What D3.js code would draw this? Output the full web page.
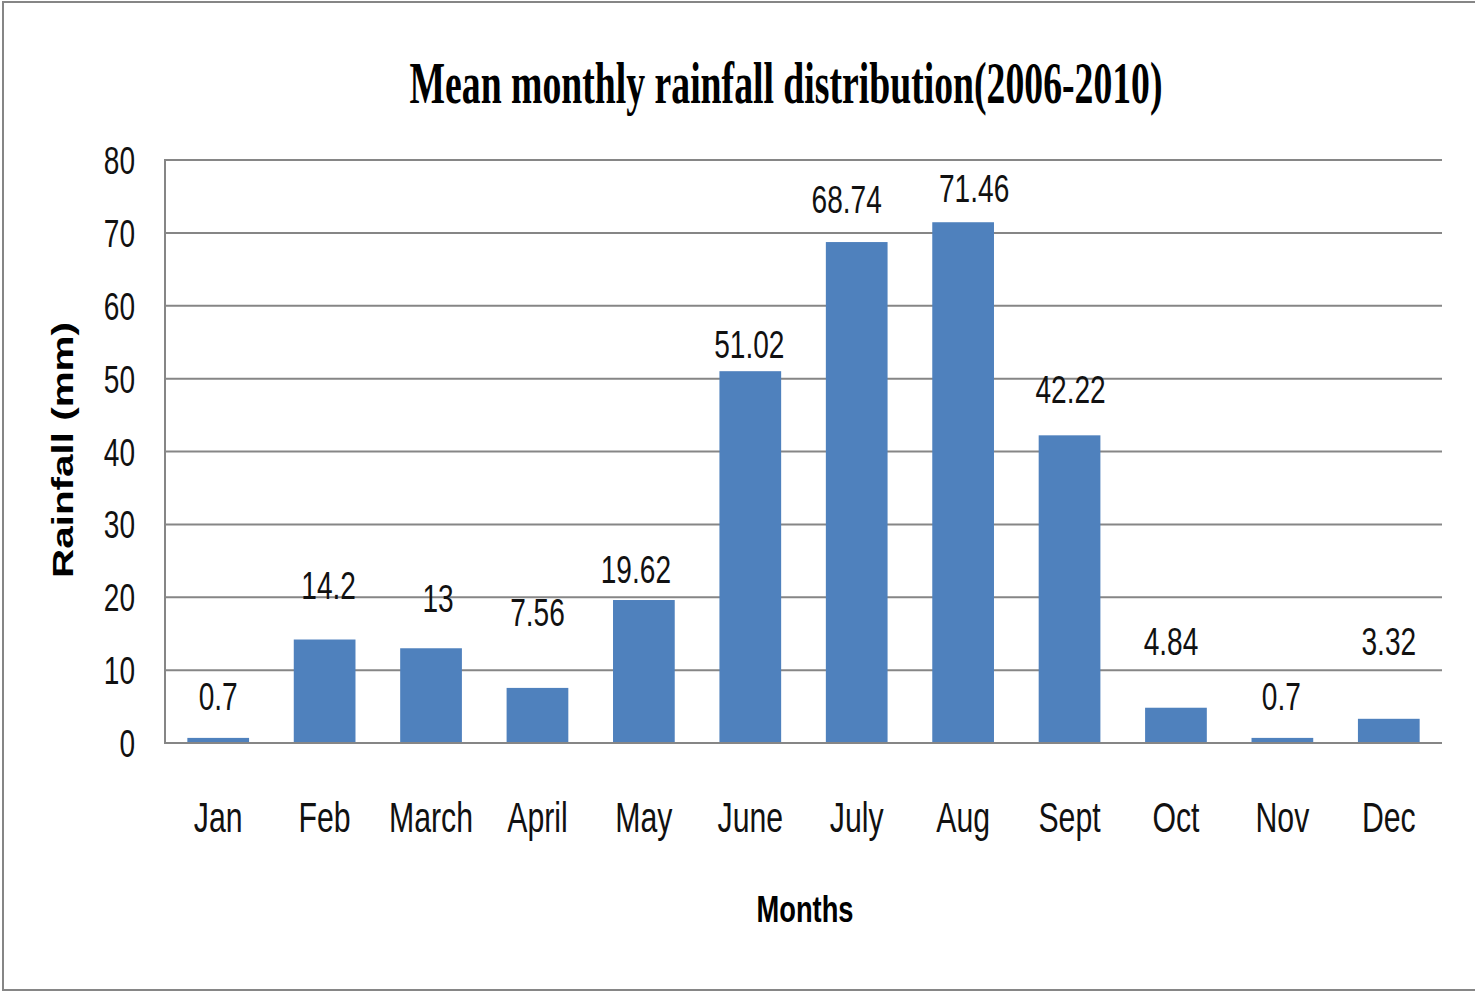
<!DOCTYPE html>
<html>
<head>
<meta charset="utf-8">
<script src="https://cdn.jsdelivr.net/npm/d3@7"></script>
<style>
  html, body { margin: 0; padding: 0; background: #fff; }
  svg { display: block; }
</style>
</head>
<body>
<svg id="chart" width="1475" height="992"></svg>
<script>
// ---- data ----
const months = ["Jan","Feb","March","April","May","June","July","Aug","Sept","Oct","Nov","Dec"];
const rainfall = [0.7, 14.2, 13, 7.56, 19.62, 51.02, 68.74, 71.46, 42.22, 4.84, 0.7, 3.32];
const valueLabels = ["0.7","14.2","13","7.56","19.62","51.02","68.74","71.46","42.22","4.84","0.7","3.32"];
const yTicks = [0, 10, 20, 30, 40, 50, 60, 70, 80];
const titleText = "Mean monthly rainfall distribution(2006-2010)";
const xTitle = "Months";
const yTitle = "Rainfall (mm)";

// ---- layout (hand-placed label baselines as levels on the value axis, and x nudges in px) ----
const labelLevels = [4.5, 19.8, 18.0, 16.1, 21.9, 52.8, 72.7, 74.2, 46.6, 12.1, 4.5, 12.1];
const labelNudge = [0, 4, 7, 0, -8, -1, -10, 11, 1, -5, -1, 0];

const svg = d3.select("#chart");
const m = { left: 165, right: 1442, top: 160, bottom: 743 };
const gray = "#868686";
const blue = "#4F81BD";
const sx = 0.72;

// outer border
svg.append("rect").attr("x", 3).attr("y", 2).attr("width", 1480).attr("height", 988)
  .attr("fill", "none").attr("stroke", gray).attr("stroke-width", 2);

const x = d3.scaleBand().domain(months).range([m.left, m.right]).paddingInner(0.42).paddingOuter(0.21);
const y = d3.scaleLinear().domain([0, 80]).range([m.bottom, m.top]);

// gridlines
svg.append("g").selectAll("line").data(yTicks.filter(d => d > 0)).join("line")
  .attr("x1", m.left).attr("x2", m.right)
  .attr("y1", d => y(d)).attr("y2", d => y(d))
  .attr("stroke", gray).attr("stroke-width", 2);

// bars
svg.append("g").selectAll("rect").data(rainfall).join("rect")
  .attr("x", (d, i) => x(months[i]))
  .attr("width", x.bandwidth())
  .attr("y", d => y(d))
  .attr("height", d => y(0) - y(d))
  .attr("fill", blue);

// axes lines
svg.append("line").attr("x1", m.left).attr("x2", m.left).attr("y1", m.top - 1).attr("y2", m.bottom + 1)
  .attr("stroke", gray).attr("stroke-width", 2);
svg.append("line").attr("x1", m.left - 1).attr("x2", m.right).attr("y1", y(0)).attr("y2", y(0))
  .attr("stroke", gray).attr("stroke-width", 2);

function narrow(g, txt, px, py, anchor, size, weight) {
  return g.append("text")
    .attr("transform", `translate(${px},${py}) scale(${sx},1)`)
    .attr("text-anchor", anchor)
    .attr("font-family", "Liberation Sans, Arial, sans-serif")
    .attr("font-size", size)
    .attr("font-weight", weight || "normal")
    .attr("fill", "#111")
    .text(txt);
}

// y tick labels
const gy = svg.append("g");
yTicks.forEach(t => narrow(gy, String(t), 135, y(t) + 14, "end", 39));

// x tick labels
const gx = svg.append("g");
months.forEach(mo => narrow(gx, mo, x(mo) + x.bandwidth() / 2, 832, "middle", 42));

// value labels
const gl = svg.append("g");
valueLabels.forEach((lab, i) => narrow(gl, lab, x(months[i]) + x.bandwidth() / 2 + labelNudge[i], y(labelLevels[i]), "middle", 39));

// title
svg.append("text")
  .attr("x", 786).attr("y", 103)
  .attr("text-anchor", "middle")
  .attr("font-family", "Liberation Serif, Times New Roman, serif")
  .attr("font-weight", "bold")
  .attr("font-size", 60)
  .attr("textLength", 753).attr("lengthAdjust", "spacingAndGlyphs")
  .text(titleText);

// x axis title
svg.append("text")
  .attr("x", 805).attr("y", 922)
  .attr("text-anchor", "middle")
  .attr("font-family", "Liberation Sans, Arial, sans-serif")
  .attr("font-weight", "bold")
  .attr("font-size", 37)
  .attr("textLength", 97).attr("lengthAdjust", "spacingAndGlyphs")
  .text(xTitle);

// y axis title
svg.append("text")
  .attr("transform", "translate(73,450) rotate(-90)")
  .attr("text-anchor", "middle")
  .attr("font-family", "Liberation Sans, Arial, sans-serif")
  .attr("font-weight", "bold")
  .attr("font-size", 29)
  .attr("textLength", 256).attr("lengthAdjust", "spacingAndGlyphs")
  .text(yTitle);
</script>
</body>
</html>
